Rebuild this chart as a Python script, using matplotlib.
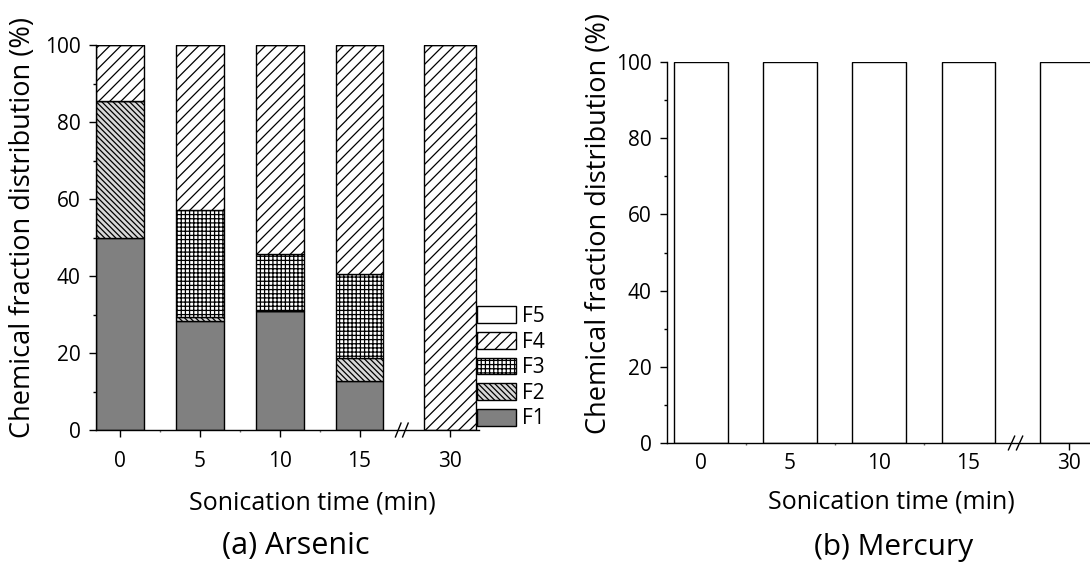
import matplotlib
matplotlib.use('Agg')
import matplotlib.pyplot as plt
from matplotlib.ticker import MultipleLocator, FixedLocator
from matplotlib.patches import Patch
import matplotlib.transforms as mtransforms

# ---------------- data ----------------
time_labels = ['0', '5', '10', '15', '30']
fraction_names = ['F1', 'F2', 'F3', 'F4', 'F5']

# Arsenic (%)
as_F1 = [50.0, 28.3, 30.9, 12.7, 0.0]
as_F2 = [35.5, 1.0, 0.0, 6.1, 0.0]
as_F3 = [0.0, 27.8, 14.9, 21.8, 0.0]
as_F4 = [14.5, 42.9, 54.2, 59.4, 100.0]
as_F5 = [0.0, 0.0, 0.0, 0.0, 0.0]

# Mercury (%)
hg_F1 = [0.0, 0.0, 0.0, 0.0, 0.0]
hg_F2 = [0.0, 0.0, 0.0, 0.0, 0.0]
hg_F3 = [0.0, 0.0, 0.0, 0.0, 0.0]
hg_F4 = [0.0, 0.0, 0.0, 0.0, 0.0]
hg_F5 = [100.0, 100.0, 100.0, 100.0, 100.0]

panel_titles = ['(a) Arsenic', '(b) Mercury']
xlabel = 'Sonication time (min)'
ylabel = 'Chemical fraction distribution (%)'

# ---------------- style ----------------
FONT = 'Open Sans'
plt.rcParams['font.family'] = [FONT, 'DejaVu Sans']
plt.rcParams['hatch.linewidth'] = 0.9

x_pos = [0, 1, 2, 3, 4.13]          # broken axis: 30 placed after the break
widths = [0.6, 0.6, 0.6, 0.6, 0.65]
styles = {
    'F1': dict(facecolor='#808080', hatch=None),
    'F2': dict(facecolor='#d8d8d8', hatch='\\' * 6),
    'F3': dict(facecolor='white', hatch='++++'),
    'F4': dict(facecolor='white', hatch='///'),
    'F5': dict(facecolor='white', hatch=None),
}

TICK_FS = 15
XLABEL_FS = 18
YLABEL_FS = 19.5

fig = plt.figure(figsize=(10.9, 5.65), dpi=100)
W, H = 1090, 565

def px_axes(left, right, top, bottom):
    return fig.add_axes([left / W, (H - bottom) / H, (right - left) / W, (bottom - top) / H])

ax1 = px_axes(96, 479, 45, 430)
ax2 = px_axes(667, 1102, 62, 443)

def draw(ax, series, xlim, xpad):
    bottom = [0.0] * len(x_pos)
    for name, vals in zip(fraction_names, series):
        st = styles[name]
        ax.bar(x_pos, vals, width=widths, bottom=bottom, facecolor=st['facecolor'],
               hatch=st['hatch'], edgecolor='black', linewidth=1.0, zorder=2)
        bottom = [b + v for b, v in zip(bottom, vals)]
    ax.set_xlim(*xlim)
    ax.set_ylim(0, 100)
    for s in ['top', 'right']:
        ax.spines[s].set_visible(False)
    for s in ['left', 'bottom']:
        ax.spines[s].set_linewidth(1.0)
        ax.spines[s].set_zorder(3)
    ax.yaxis.set_major_locator(MultipleLocator(20))
    ax.yaxis.set_minor_locator(MultipleLocator(10))
    ax.xaxis.set_major_locator(FixedLocator(x_pos))
    ax.set_xticklabels(time_labels)
    ax.xaxis.set_minor_locator(FixedLocator([0.5, 1.5, 2.5]))
    ax.tick_params(axis='both', which='major', direction='out', length=5, width=1.0,
                   labelsize=TICK_FS, pad=6)
    ax.tick_params(axis='both', which='minor', direction='out', length=2.5, width=1.0)
    ax.tick_params(axis='x', which='minor', length=1.5, color='#666666')
    ax.tick_params(axis='x', which='major', pad=xpad)
    ax.set_xlabel(xlabel, fontsize=XLABEL_FS)
    ax.set_ylabel(ylabel, fontsize=YLABEL_FS)
    # break marks "//"
    trans = mtransforms.blended_transform_factory(ax.transData, ax.transAxes)
    xb = 3.53
    for off in (-0.045, 0.045):
        ax.plot([xb + off - 0.035, xb + off + 0.035], [-0.018, 0.018], color='black',
                lw=1.0, transform=trans, clip_on=False, zorder=4)

draw(ax1, [as_F1, as_F2, as_F3, as_F4, as_F5], (-0.3015, 4.497), 10)
draw(ax2, [hg_F1, hg_F2, hg_F3, hg_F4, hg_F5], (-0.381, 4.5), 2.5)

# in panel (b) only the last major x tick is visible
for t in ax2.xaxis.get_major_ticks()[:4]:
    t.tick1line.set_visible(False)

ax1.xaxis.set_label_coords((312 - 96) / 383, -0.158)
ax2.xaxis.set_label_coords((891 - 667) / 435, -0.122)
ax1.yaxis.set_label_coords((37 - 96) / 383, (430 - 228) / 385)
ax2.yaxis.set_label_coords((613 - 667) / 435, (443 - 223) / 381)

# legend (panel a)
LEG_FS = 15
handles = [Patch(facecolor=styles[n]['facecolor'], hatch=styles[n]['hatch'],
                 edgecolor='black', linewidth=1.0, label=n) for n in fraction_names[::-1]]
ax1.legend(handles=handles, loc='upper left', bbox_to_anchor=(477 / W, (H - 306) / H),
           bbox_transform=fig.transFigure, frameon=False, fontsize=LEG_FS,
           handlelength=28 / LEG_FS, handleheight=13 / LEG_FS, labelspacing=0.22,
           handletextpad=0.3, borderpad=0, borderaxespad=0)

fig.text(296 / W, (H - 546) / H, panel_titles[0], fontsize=22, ha='center', va='center')
fig.text(894 / W, (H - 547) / H, panel_titles[1], fontsize=21.5, ha='center', va='center')

fig.savefig('out.png', dpi=100)
